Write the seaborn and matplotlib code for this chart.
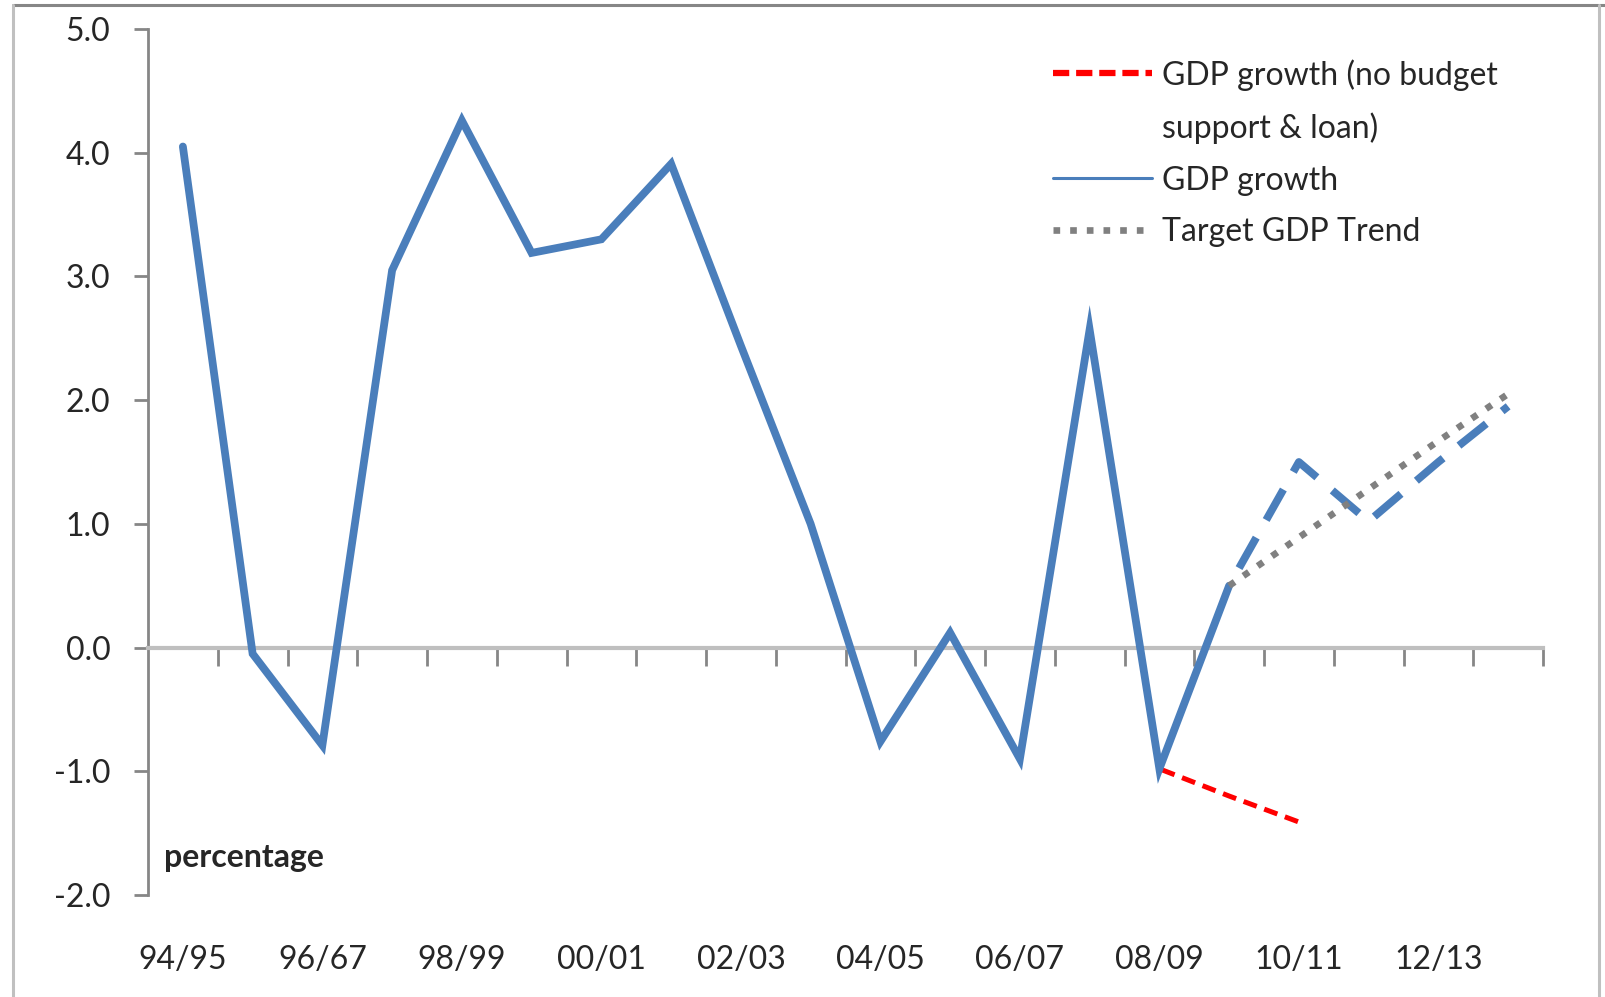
import numpy as np
import pandas as pd
import matplotlib.pyplot as plt
import seaborn as sns
from matplotlib.lines import Line2D

# category axis (label for 96/97 is printed as "96/67" in the source chart)
years = ['94/95', '95/96', '96/67', '97/98', '98/99', '99/00', '00/01', '01/02', '02/03', '03/04',
         '04/05', '05/06', '06/07', '07/08', '08/09', '09/10', '10/11', '11/12', '12/13', '13/14']

# GDP growth, actual 94/95 .. 09/10
gdp_actual = [4.05, -0.05, -0.79, 3.05, 4.26, 3.19, 3.30, 3.91, 2.44, 1.00,
              -0.76, 0.12, -0.90, 2.57, -0.98, 0.50]
# GDP growth, projection 09/10 .. 13/14
gdp_projection = [0.50, 1.50, 1.02, 1.50, 1.95]
# GDP growth without budget support & loan, 94/95 .. 10/11
gdp_no_support = [4.05, -0.05, -0.79, 3.05, 4.26, 3.19, 3.30, 3.91, 2.44, 1.00,
                  -0.76, 0.12, -0.90, 2.57, -0.98, -1.20, -1.41]
# target trend 09/10 .. 13/14
target_trend = [0.50, 0.89, 1.28, 1.67, 2.05]

BLUE = '#4a7ebb'
RED = '#ff0000'
GREY = '#808080'
AXGREY = '#868686'

sns.set_style('white')
plt.rcParams['font.family'] = ['Lato', 'DejaVu Sans']
plt.rcParams['axes.unicode_minus'] = False

fig = plt.figure(figsize=(16.06, 9.97), dpi=100)
ax = fig.add_axes([148 / 1606, 1 - 895 / 997, (1543 - 148) / 1606, (895 - 29) / 997])

pos = np.arange(len(years))
n_act = len(gdp_actual)
proj_pos = pos[n_act - 1:n_act - 1 + len(gdp_projection)]

sns.lineplot(x=pos[:len(gdp_no_support)], y=gdp_no_support, ax=ax, color=RED, lw=3.6,
             linestyle=(0, (2.8, 1.6)), zorder=2)
sns.lineplot(x=pos[:n_act], y=gdp_actual, ax=ax, color=BLUE, lw=5.6, zorder=3,
             solid_joinstyle='miter')
sns.lineplot(x=proj_pos, y=gdp_projection, ax=ax, color=BLUE, lw=5.6,
             linestyle=(4.5, (4.5, 2.6)), zorder=3)
sns.lineplot(x=proj_pos, y=target_trend, ax=ax, color=GREY, lw=4.8,
             linestyle=(0, (1, 1.6)), zorder=4)

ax.set_xlim(-0.5, len(years) - 0.5)
ax.set_ylim(-2, 5)
ax.set_yticks(np.arange(-2, 5.1, 1))
ax.set_yticklabels([f'{v:.1f}' for v in np.arange(-2, 5.1, 1)])
ax.tick_params(axis='y', length=10, width=2, color=AXGREY, pad=17, labelsize=23, left=True)

# horizontal axis line at zero with boundary tick marks
for s in ['top', 'right']:
    ax.spines[s].set_visible(False)
ax.spines['left'].set_color(AXGREY)
ax.spines['left'].set_linewidth(2)
ax.spines['bottom'].set_position(('data', 0))
ax.spines['bottom'].set_color('#bfbfbf')
ax.spines['bottom'].set_linewidth(3)
ax.set_xticks(np.arange(0.5, len(years), 1))
ax.set_xticklabels([])
ax.tick_params(axis='x', length=13, width=2, color=AXGREY, bottom=True, direction='out')

# category labels at the bottom of the plot
sec = ax.secondary_xaxis('bottom')
sec.set_xticks(pos[::2])
sec.set_xticklabels(years[::2])
sec.tick_params(axis='x', length=0, pad=36, labelsize=23)
sec.spines['bottom'].set_visible(False)

ax.text(-0.27, -1.70, 'percentage', fontsize=23, fontweight='bold', ha='left', va='center')

# legend: the wrapped first label gets its own row with an empty handle
handles = [Line2D([], [], color=RED, lw=4.5, linestyle=(0, (2.6, 1.1))),
           Line2D([], [], color='none', lw=0),
           Line2D([], [], color=BLUE, lw=2.2),
           Line2D([], [], color=GREY, lw=4.8, linestyle=(0, (1, 1.5)))]
labels = ['GDP growth (no budget', 'support & loan)', 'GDP growth', 'Target GDP Trend']
leg = ax.legend(handles, labels, loc='upper left', bbox_to_anchor=(1037 / 1606, 1 - 43 / 997),
                bbox_transform=fig.transFigure, frameon=False, fontsize=23,
                handlelength=3.1, handletextpad=0.3, labelspacing=0.68, borderpad=0)

# outer chart border
fig.add_artist(Line2D([13 / 1606, 1], [1 - 5 / 997] * 2, color=AXGREY, lw=2.2))
fig.add_artist(Line2D([13 / 1606] * 2, [0, 1 - 5 / 997], color='#c0c0c0', lw=2.2))
fig.add_artist(Line2D([1599 / 1606] * 2, [0, 1 - 5 / 997], color='#c0c0c0', lw=2.2))

plt.savefig('out.png', dpi=100)
